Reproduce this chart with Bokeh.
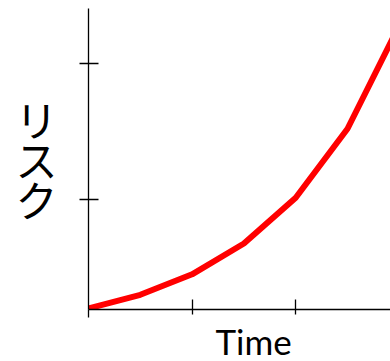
from bokeh.plotting import figure
from bokeh.models import FixedTicker, Range1d, LinearAxis, Title
from bokeh.embed import file_html
from bokeh.resources import INLINE

# data
time = [0, 1, 2, 3, 4, 5, 6]
risk = [1.0, 1.5, 2.25, 3.38, 5.06, 7.59, 11.39]
x_ticks = [2, 4]
y_ticks = [5, 10]
x_label = "Time"
y_label = "リ\nス\nク"
y_label_pos = 6.5

p = figure(width=390, height=361, output_backend="svg", toolbar_location=None,
           x_range=Range1d(0, 5.83), y_range=Range1d(0.96, 12.0),
           min_border_left=88, min_border_right=0, min_border_top=8, min_border_bottom=0)
p.outline_line_color = None
p.xgrid.visible = False
p.ygrid.visible = False

p.line(time, risk, line_color="#ff0000", line_width=6)

p.xaxis.ticker = FixedTicker(ticks=x_ticks, minor_ticks=[0])
p.yaxis.ticker = FixedTicker(ticks=y_ticks)
for ax in (p.xaxis, p.yaxis):
    ax.axis_line_color = "black"
    ax.axis_line_width = 1.3
    ax.major_tick_line_color = "black"
    ax.major_tick_line_width = 1.3
    ax.major_label_text_font_size = "0px"
    ax.major_label_text_color = None
    ax.major_label_standoff = 0
    ax.axis_label_standoff = 0
p.xaxis.major_tick_in = 10
p.xaxis.major_tick_out = 5
p.xaxis.minor_tick_in = 0
p.xaxis.minor_tick_out = 8
p.xaxis.minor_tick_line_color = "black"
p.xaxis.minor_tick_line_width = 1.3
p.yaxis.major_tick_in = 10
p.yaxis.major_tick_out = 9
p.yaxis.minor_tick_line_color = None

# stacked Japanese y label as an extra left axis
lab_ax = LinearAxis(ticker=FixedTicker(ticks=[y_label_pos]),
                    major_label_overrides={y_label_pos: y_label})
lab_ax.axis_line_color = None
lab_ax.major_tick_line_color = None
lab_ax.minor_tick_line_color = None
lab_ax.major_label_standoff = 16
lab_ax.major_label_text_font = "Noto Sans CJK JP"
lab_ax.major_label_text_font_size = "42px"
lab_ax.major_label_text_line_height = 0.65
lab_ax.major_label_text_color = "black"
p.add_layout(lab_ax, "left")

p.add_layout(Title(text=x_label, align="left", offset=127, text_font="Lato",
                   text_font_size="35px", text_font_style="normal",
                   text_color="black", standoff=0), "below")

open("out.html", "w").write(file_html(p, INLINE))
